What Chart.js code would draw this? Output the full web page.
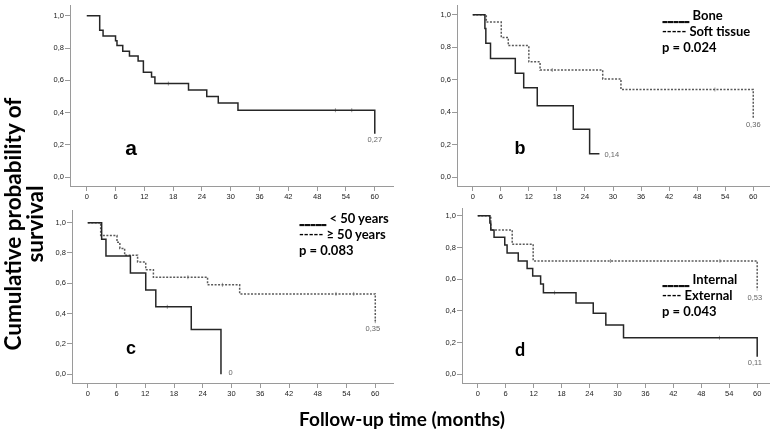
<!DOCTYPE html>
<html>
<head>
<meta charset="utf-8">
<script src="https://cdn.jsdelivr.net/npm/chart.js@4.4.0/dist/chart.umd.min.js"></script>
<style>
    body { margin: 0; background: #fff; }
    #wrap { position: relative; width: 774px; height: 435px; overflow: hidden; background: #fff; }
    canvas { position: absolute; }
    .legend { position: absolute; font: bold 13px Lato, sans-serif; line-height: 16px; color: #000; white-space: pre; }
    .legend .us { letter-spacing: -0.6px; text-shadow: 0 0.6px 0 #000; }
    .letter { position: absolute; width: 40px; text-align: center; font-weight: bold; color: #000; }
    .ytitle { position: absolute; width: 320px; left: -136px; top: 202px; font: bold 22.5px Lato, sans-serif; line-height: 22px; text-align: center; transform: rotate(-90deg); }
    .xtitle { position: absolute; width: 400px; left: 202px; top: 408px; font: bold 19px Lato, sans-serif; line-height: 22px; text-align: center; }
</style>
</head>
<body>
<div id="wrap">
    <canvas id="panelA"></canvas>
    <canvas id="panelB"></canvas>
    <canvas id="panelC"></canvas>
    <canvas id="panelD"></canvas>

    <div class="letter" style="left:111px; top:137px; font:bold 21px 'Liberation Sans'; line-height:21px;">a</div>
    <div class="letter" style="left:500px; top:139px; font:bold 18px 'Liberation Sans'; line-height:18px;">b</div>
    <div class="letter" style="left:111px; top:339px; font:bold 18px 'Liberation Sans'; line-height:18px;">c</div>
    <div class="letter" style="left:500px; top:340px; font:bold 18px Lato; line-height:18px;">d</div>

    <div class="legend" style="left:662px; top:7px;"><span class="us">_____</span> Bone
----- Soft tissue
p = 0.024</div>
    <div class="legend" style="left:299px; top:210px;"><span class="us">_____</span> &lt; 50 years
----- ≥ 50 years
p = 0.083</div>
    <div class="legend" style="left:662px; top:271px;"><span class="us">_____</span> Internal
---- External
p = 0.043</div>

    <div class="ytitle">Cumulative probability of<br>survival</div>
    <div class="xtitle">Follow-up time (months)</div>
</div>

<script>
// ===== DATOS =====
const xTicks = [0, 6, 12, 18, 24, 30, 36, 42, 48, 54, 60];
const yTicks = [0, 0.2, 0.4, 0.6, 0.8, 1.0];

// a - todos los pacientes
const aTime = [0, 2.7, 3.4, 6.0, 6.3, 7.5, 8.9, 10.7, 11.8, 13.5, 14.2, 21.2, 25.0, 27.4, 31.5, 60];
const aSurv = [1.0, 0.91, 0.875, 0.845, 0.815, 0.78, 0.75, 0.72, 0.65, 0.62, 0.58, 0.54, 0.50, 0.46, 0.415, 0.27];
const aCensorTime = [17.0, 51.8, 55.2];
const aCensorSurv = [0.58, 0.415, 0.415];

// b - hueso / partes blandas
const boneTime = [0, 2.6, 2.8, 3.8, 9.1, 10.9, 13.8, 21.5, 25.0, 27.1];
const boneSurv = [1.0, 0.915, 0.825, 0.73, 0.64, 0.55, 0.44, 0.295, 0.145, 0.145];
const softTime = [0, 2.9, 6.1, 7.6, 12.0, 14.4, 27.8, 31.7, 60];
const softSurv = [1.0, 0.955, 0.86, 0.81, 0.71, 0.66, 0.605, 0.54, 0.36];
const softCensorTime = [17.0, 51.8];
const softCensorSurv = [0.66, 0.54];

// c - edad
const youngTime = [0, 2.9, 3.8, 8.9, 12.1, 14.2, 21.6, 27.8];
const youngSurv = [1.0, 0.89, 0.78, 0.667, 0.555, 0.445, 0.295, 0.0];
const youngCensorTime = [16.6];
const youngCensorSurv = [0.445];
const oldTime = [0, 2.7, 6.1, 6.7, 7.7, 10.4, 12.1, 13.7, 25.0, 31.7, 60];
const oldSurv = [1.0, 0.915, 0.87, 0.83, 0.785, 0.74, 0.69, 0.64, 0.59, 0.53, 0.35];
const oldCensorTime = [20.9, 28.1, 51.8, 55.5, 60];
const oldCensorSurv = [0.64, 0.59, 0.53, 0.53, 0.35];

// d - interna / externa
const internalTime = [0, 2.6, 2.8, 3.5, 5.8, 6.3, 8.7, 10.6, 11.8, 13.5, 14.1, 21.1, 24.8, 27.5, 31.3, 60];
const internalSurv = [1.0, 0.955, 0.91, 0.865, 0.815, 0.765, 0.715, 0.668, 0.62, 0.57, 0.515, 0.45, 0.385, 0.31, 0.23, 0.11];
const internalCensorTime = [16.5, 51.9];
const internalCensorSurv = [0.515, 0.23];
const externalTime = [0, 2.8, 7.4, 11.9, 60];
const externalSurv = [1.0, 0.91, 0.82, 0.715, 0.53];
const externalCensorTime = [28.5, 52.0];
const externalCensorSurv = [0.715, 0.715];

// ===== ESTILOS =====
const SOLID = '#262626';
const DASHED = '#5a5a5a';
const AXIS = '#9a9a9a';
const Y_AXIS_W = 30;
const X_AXIS_H = 22;

function toPoints(times, values) {
    return times.map((t, i) => ({ x: t, y: values[i] }));
}

function curve(times, values, dashed) {
    return {
        data: toPoints(times, values),
        stepped: 'before',
        borderColor: dashed ? DASHED : SOLID,
        borderWidth: 1.5,
        borderDash: dashed ? [2, 1.5] : [],
        pointRadius: 0,
        fill: false
    };
}

function censors(times, values) {
    return {
        data: toPoints(times, values),
        showLine: false,
        pointStyle: 'line',
        rotation: 90,
        pointRadius: 2,
        borderWidth: 1,
        borderColor: '#999'
    };
}

// etiquetas finales (coordenadas de datos)
const endLabelsPlugin = {
    id: 'endLabels',
    afterDatasetsDraw(chart) {
        const labels = chart.options.plugins.endLabels.items || [];
        const { ctx, scales: { x, y } } = chart;
        ctx.save();
        ctx.font = "7.5px 'Liberation Sans'";
        ctx.fillStyle = '#666';
        ctx.textBaseline = 'middle';
        labels.forEach(l => {
            ctx.textAlign = l.align || 'center';
            ctx.fillText(l.text, x.getPixelForValue(l.x), y.getPixelForValue(l.y));
        });
        ctx.restore();
    }
};

// geo: caja del área del gráfico en la página y píxeles de 0/60 meses y 0/1
function createPanel(canvasId, geo, datasets, endLabels) {
    const canvas = document.getElementById(canvasId);
    const w = geo.right - geo.left + Y_AXIS_W;
    const h = geo.bottom - geo.top + X_AXIS_H;
    canvas.width = w;
    canvas.height = h;
    canvas.style.left = (geo.left - Y_AXIS_W) + 'px';
    canvas.style.top = geo.top + 'px';
    canvas.style.width = w + 'px';
    canvas.style.height = h + 'px';

    const perMonth = (geo.x60 - geo.x0) / 60;
    const perUnit = geo.y0 - geo.y1;

    const tickFont = { family: "'Liberation Sans', Arial, sans-serif", size: 7.5 };

    return new Chart(canvas, {
        type: 'line',
        data: { datasets: datasets },
        options: {
            responsive: false,
            animation: false,
            layout: { padding: 0 },
            plugins: {
                legend: { display: false },
                tooltip: { enabled: false },
                endLabels: { items: endLabels }
            },
            scales: {
                x: {
                    type: 'linear',
                    min: -(geo.x0 - geo.left) / perMonth,
                    max: 60 + (geo.right - geo.x60) / perMonth,
                    afterBuildTicks: s => { s.ticks = xTicks.map(v => ({ value: v })); },
                    afterFit: s => { s.height = X_AXIS_H; s.paddingLeft = 0; s.paddingRight = 0; },
                    grid: { drawOnChartArea: false, drawTicks: true, tickLength: 5, color: AXIS },
                    border: { color: AXIS, width: 1 },
                    ticks: {
                        autoSkip: false,
                        maxRotation: 0,
                        padding: 1,
                        color: '#222',
                        font: tickFont,
                        callback: v => String(v)
                    }
                },
                y: {
                    type: 'linear',
                    min: -(geo.bottom - geo.y0) / perUnit,
                    max: 1 + (geo.y1 - geo.top) / perUnit,
                    afterBuildTicks: s => { s.ticks = yTicks.map(v => ({ value: v })); },
                    afterFit: s => { s.width = Y_AXIS_W; s.paddingTop = 0; s.paddingBottom = 0; },
                    grid: { drawOnChartArea: false, drawTicks: true, tickLength: 5, color: AXIS },
                    border: { color: AXIS, width: 1 },
                    ticks: {
                        padding: 1,
                        color: '#222',
                        font: tickFont,
                        callback: v => v.toFixed(1).replace('.', ',')
                    }
                }
            }
        },
        plugins: [endLabelsPlugin]
    });
}

createPanel('panelA',
    { left: 70, right: 398, top: 0, bottom: 186, x0: 87, x60: 379.5, y1: 11, y0: 177 },
    [curve(aTime, aSurv, false), censors(aCensorTime, aCensorSurv)],
    [{ text: '0,27', x: 60, y: 0.23 }]);

createPanel('panelB',
    { left: 457, right: 774, top: 0, bottom: 186, x0: 473, x60: 758, y1: 10, y0: 177 },
    [curve(boneTime, boneSurv, false), curve(softTime, softSurv, true), censors(softCensorTime, softCensorSurv)],
    [{ text: '0,14', x: 28.2, y: 0.14, align: 'left' }, { text: '0,36', x: 60, y: 0.32 }]);

createPanel('panelC',
    { left: 72, right: 398, top: 205, bottom: 383, x0: 88, x60: 380, y1: 218, y0: 374 },
    [curve(youngTime, youngSurv, false), censors(youngCensorTime, youngCensorSurv),
     curve(oldTime, oldSurv, true), censors(oldCensorTime, oldCensorSurv)],
    [{ text: '0', x: 29.8, y: 0.01 }, { text: '0,35', x: 59.5, y: 0.30 }]);

createPanel('panelD',
    { left: 462, right: 774, top: 203, bottom: 383, x0: 478, x60: 762, y1: 211, y0: 374 },
    [curve(internalTime, internalSurv, false), censors(internalCensorTime, internalCensorSurv),
     curve(externalTime, externalSurv, true), censors(externalCensorTime, externalCensorSurv)],
    [{ text: '0,53', x: 59.5, y: 0.48 }, { text: '0,11', x: 59.5, y: 0.07 }]);
</script>
</body>
</html>
